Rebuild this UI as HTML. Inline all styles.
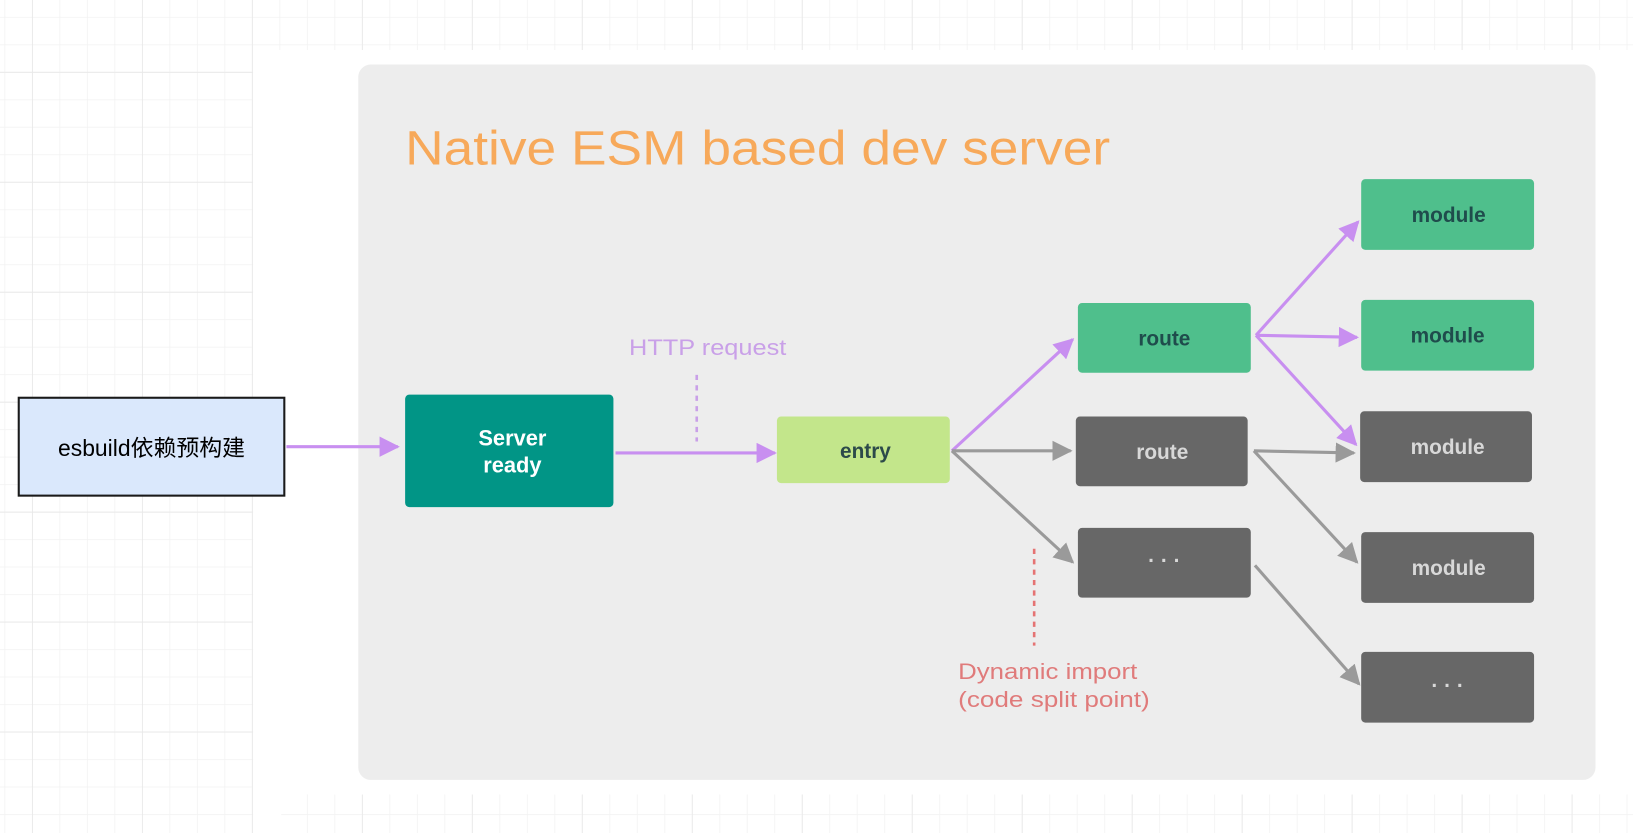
<!DOCTYPE html>
<html><head><meta charset="utf-8"><style>
html,body{margin:0;padding:0;background:#fff;}
svg{display:block;}
text{font-family:"Liberation Sans","Noto Sans CJK SC",sans-serif;}
</style></head><body>
<svg width="1633" height="833" viewBox="0 0 1568 800" preserveAspectRatio="none" xmlns="http://www.w3.org/2000/svg">
<defs>
<pattern id="minor" x="4.3" y="16.2" width="26.4" height="26.4" patternUnits="userSpaceOnUse">
<path d="M0 0H26.4M0 0V26.4" stroke="#f2f2f2" stroke-width="1.5" fill="none"/>
</pattern>
<pattern id="major" x="30.7" y="69" width="105.6" height="105.6" patternUnits="userSpaceOnUse">
<path d="M0 0H105.6M0 0V105.6" stroke="#e8e8e8" stroke-width="1.6" fill="none"/>
</pattern>
<marker id="ap" viewBox="0 0 10 10" refX="9" refY="5" markerWidth="6.5" markerHeight="6.5" orient="auto" markerUnits="strokeWidth"><path d="M0 0L10 5L0 10z" fill="#c88ff0"/></marker>
<marker id="ag" viewBox="0 0 10 10" refX="9" refY="5" markerWidth="6.5" markerHeight="6.5" orient="auto" markerUnits="strokeWidth"><path d="M0 0L10 5L0 10z" fill="#9a9a9a"/></marker>
</defs>
<rect width="1568" height="800" fill="url(#minor)"/>
<rect width="1568" height="800" fill="url(#major)"/>
<rect x="243" y="48" width="1325" height="715" fill="#fff"/>
<rect x="243" y="763" width="27" height="37" fill="#fff"/>
<rect x="344" y="62" width="1188" height="687" rx="12" fill="#ededed"/>
<text x="389" y="158" font-size="46" fill="#f7a95a" textLength="677" lengthAdjust="spacingAndGlyphs">Native ESM based dev server</text>

<rect x="18" y="382" width="255" height="94" fill="#dae8fc" stroke="#1a1a1a" stroke-width="2"/>
<text x="145.5" y="438" font-size="22" text-anchor="middle" fill="#000">esbuild依赖预构建</text>

<g stroke-width="3" fill="none">
<line x1="275" y1="429" x2="382" y2="429" stroke="#c88ff0" marker-end="url(#ap)"/>
<line x1="591" y1="435" x2="744" y2="435" stroke="#c88ff0" marker-end="url(#ap)"/>
<line x1="914" y1="433" x2="1030" y2="326" stroke="#c88ff0" marker-end="url(#ap)"/>
<line x1="914" y1="433" x2="1028" y2="433" stroke="#9a9a9a" marker-end="url(#ag)"/>
<line x1="914" y1="433" x2="1030" y2="540" stroke="#9a9a9a" marker-end="url(#ag)"/>
<line x1="1206" y1="322" x2="1304" y2="213" stroke="#c88ff0" marker-end="url(#ap)"/>
<line x1="1206" y1="322" x2="1303" y2="324" stroke="#c88ff0" marker-end="url(#ap)"/>
<line x1="1206" y1="322" x2="1302" y2="427" stroke="#c88ff0" marker-end="url(#ap)"/>
<line x1="1204" y1="433" x2="1300" y2="435" stroke="#9a9a9a" marker-end="url(#ag)"/>
<line x1="1204" y1="433" x2="1303" y2="540" stroke="#9a9a9a" marker-end="url(#ag)"/>
<line x1="1205" y1="543" x2="1305" y2="657" stroke="#9a9a9a" marker-end="url(#ag)"/>
</g>
<line x1="669" y1="360" x2="669" y2="424" stroke="#c9a0e8" stroke-width="2.5" stroke-dasharray="5,5"/>
<line x1="993" y1="527" x2="993" y2="620" stroke="#e57373" stroke-width="2.5" stroke-dasharray="5,5"/>
<text x="604" y="341" font-size="21" fill="#c9a0e8" textLength="151" lengthAdjust="spacingAndGlyphs">HTTP request</text>
<text x="920" y="652" font-size="21" fill="#e07b7b" textLength="172" lengthAdjust="spacingAndGlyphs">Dynamic import</text>
<text x="920" y="679" font-size="21" fill="#e07b7b" textLength="184" lengthAdjust="spacingAndGlyphs">(code split point)</text>

<rect x="389" y="379" width="200" height="108" rx="4" fill="#019586"/>
<text x="492" y="428" font-size="21" font-weight="bold" fill="#fff" text-anchor="middle">Server</text>
<text x="492" y="454" font-size="21" font-weight="bold" fill="#fff" text-anchor="middle">ready</text>

<rect x="746" y="400" width="166" height="64" rx="4" fill="#c3e68b"/>
<text x="831" y="440" font-size="20" font-weight="bold" fill="#2c4a4a" text-anchor="middle">entry</text>

<rect x="1035" y="291" width="166" height="67" rx="4" fill="#4fbf8c"/>
<text x="1118" y="332" font-size="20" font-weight="bold" fill="#1f4c4c" text-anchor="middle">route</text>
<rect x="1033" y="400" width="165" height="67" rx="4" fill="#676767"/>
<text x="1116" y="441" font-size="20" font-weight="bold" fill="#d8d8d8" text-anchor="middle">route</text>
<rect x="1035" y="507" width="166" height="67" rx="4" fill="#676767"/>
<text x="1118" y="545" font-size="20" font-weight="bold" fill="#d8d8d8" text-anchor="middle">· · ·</text>

<rect x="1307" y="172" width="166" height="68" rx="4" fill="#4fbf8c"/>
<text x="1391" y="213" font-size="20" font-weight="bold" fill="#1f4c4c" text-anchor="middle">module</text>
<rect x="1307" y="288" width="166" height="68" rx="4" fill="#4fbf8c"/>
<text x="1390" y="329" font-size="20" font-weight="bold" fill="#1f4c4c" text-anchor="middle">module</text>
<rect x="1306" y="395" width="165" height="68" rx="4" fill="#676767"/>
<text x="1390" y="436" font-size="20" font-weight="bold" fill="#d8d8d8" text-anchor="middle">module</text>
<rect x="1307" y="511" width="166" height="68" rx="4" fill="#676767"/>
<text x="1391" y="552" font-size="20" font-weight="bold" fill="#d8d8d8" text-anchor="middle">module</text>
<rect x="1307" y="626" width="166" height="68" rx="4" fill="#676767"/>
<text x="1390" y="665" font-size="20" font-weight="bold" fill="#d8d8d8" text-anchor="middle">· · ·</text>
</svg>
</body></html>
